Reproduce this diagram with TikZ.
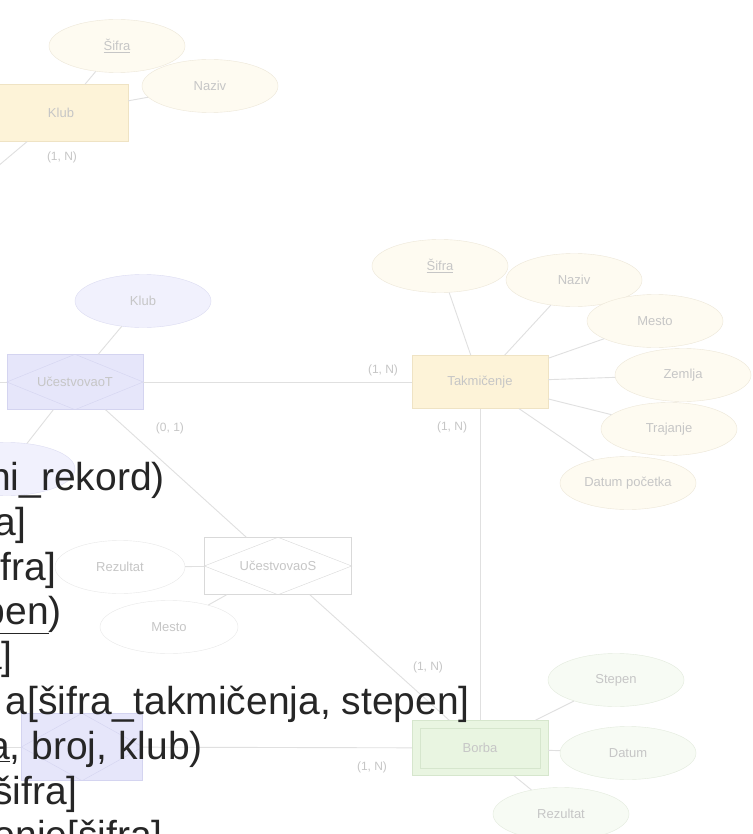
\documentclass[tikz,border=0pt]{standalone}
\usepackage{fontspec}
\setmainfont{Liberation Sans}
\usetikzlibrary{shapes,positioning,calc}
\definecolor{entfill}{HTML}{FDF3D8}
\definecolor{entdraw}{HTML}{EFE3C4}
\definecolor{attfill}{HTML}{FEFBF1}
\definecolor{attdraw}{HTML}{EDE7D8}
\definecolor{relfill}{HTML}{E6E6FA}
\definecolor{reldraw}{HTML}{D4D4F0}
\definecolor{blufill}{HTML}{F1F1FD}
\definecolor{bludraw}{HTML}{DCDCF2}
\definecolor{grnfill}{HTML}{E9F5E1}
\definecolor{grndraw}{HTML}{D6E6CD}
\definecolor{grnatt}{HTML}{F7FBF4}
\definecolor{grnattdraw}{HTML}{E3EBDD}
\definecolor{conncol}{HTML}{E0E0E0}
\definecolor{lblcol}{HTML}{C6C6C6}
\definecolor{ink}{HTML}{262626}
\newcommand{\lblfont}{\fontsize{13}{15}\selectfont}
\newcommand{\cardfont}{\fontsize{12}{14}\selectfont}
\newcommand{\schemafont}{\fontsize{39}{45}\selectfont}

\begin{document}
\begin{tikzpicture}[x=1pt, y=-1pt,
    entity/.style={rectangle, draw=entdraw, fill=entfill, minimum width=136pt, minimum height=54pt, font=\lblfont, text=lblcol},
    attr/.style={ellipse, draw=attdraw, fill=attfill, minimum width=136pt, minimum height=53pt, font=\lblfont, text=lblcol},
    battr/.style={attr, draw=bludraw, fill=blufill},
    gattr/.style={attr, draw=grnattdraw, fill=grnatt},
    rel/.style={rectangle, draw=reldraw, fill=relfill, minimum width=136pt, minimum height=55pt, font=\lblfont, text=lblcol},
    card/.style={font=\cardfont, text=lblcol},
    conn/.style={draw=conncol, line width=0.9pt},
    schema/.style={anchor=base east, inner sep=0pt, font=\schemafont, text=ink},
]
    \useasboundingbox (0,0) rectangle (752,834);
    \fill[white] (0,0) rectangle (752,834);

    % Klub (top)
    \node[entity, minimum width=134pt, minimum height=57pt] (klub) at (61,113) {Klub};
    \node[attr] (ksifra) at (117,46) {\underline{Šifra}};
    \node[attr] (knaziv) at (210,86) {Naziv};
    \coordinate (klubout) at (-60,215);

    % Takmicenje
    \node[entity, minimum height=53pt] (tak) at (480,382) {Takmičenje};
    \node[attr] (tsifra) at (440,266) {\underline{Šifra}};
    \node[attr] (tnaziv) at (574,280) {Naziv};
    \node[attr] (tmesto) at (655,321) {Mesto};
    \node[attr] (tzemlja) at (683,375) {Zemlja};
    \node[attr] (ttraj) at (669,429) {Trajanje};
    \node[attr] (tdatum) at (628,483) {Datum početka};

    % UcestvovaoT
    \node[rel] (uct) at (75,382) {UčestvovaoT};
    \node[battr] (uklub) at (143,301) {Klub};
    \node[battr] (ulicni) at (7,469) {};
    \coordinate (uctout) at (-30,382);

    % UcestvovaoS
    \node[rel, draw=gray!30, fill=white, minimum width=147pt, minimum height=57pt] (ucs) at (278,566) {UčestvovaoS};
    \node[attr, draw=gray!18, fill=white, minimum width=130pt] (srez) at (120,567) {Rezultat};
    \node[attr, draw=gray!18, fill=white, minimum width=138pt] (smesto) at (169,627) {Mesto};

    % Borba
    \node[entity, draw=grndraw, fill=grnfill, minimum height=55pt] (borba) at (480,748) {Borba};
    \node[gattr] (bstepen) at (616,680) {Stepen};
    \node[gattr] (bdatum) at (628,753) {Datum};
    \node[gattr] (brez) at (561,814) {Rezultat};
    \node[rel, minimum width=121pt, minimum height=67pt] (relb) at (82,747) {};
    \coordinate (relbout) at (-30,747);

    \draw[conn] (ksifra) -- (klub);
    \draw[conn] (knaziv) -- (klub);
    \draw[conn] (klub) -- (klubout);
    \draw[conn] (tsifra) -- (tak);
    \draw[conn] (tnaziv) -- (tak);
    \draw[conn] (tmesto) -- (tak);
    \draw[conn] (tzemlja) -- (tak);
    \draw[conn] (ttraj) -- (tak);
    \draw[conn] (tdatum) -- (tak);
    \draw[conn] (uklub) -- (uct);
    \draw[conn] (uct) -- (ulicni);
    \draw[conn] (uctout) -- (uct);
    \draw[conn] (uct) -- (tak);
    \draw[conn] (uct) -- (ucs);
    \draw[conn] (srez) -- (ucs);
    \draw[conn] (smesto) -- (ucs);
    \draw[conn] (ucs) -- (borba);
    \draw[conn] (tak) -- (borba);
    \draw[conn] (bstepen) -- (borba);
    \draw[conn] (bdatum) -- (borba);
    \draw[conn] (brez) -- (borba);
    \draw[conn] (relbout) -- (relb);
    \draw[conn] (relb) -- (borba);

    % diamonds and the weak-entity frame
    \draw[reldraw] (uct.west) -- (uct.north) -- (uct.east) -- (uct.south) -- cycle;
    \draw[gray!30] (ucs.west) -- (ucs.north) -- (ucs.east) -- (ucs.south) -- cycle;
    \draw[reldraw] (relb.west) -- (relb.north) -- (relb.east) -- (relb.south) -- cycle;
    \draw[grndraw] ([shift={(8,8)}]borba.north west) rectangle ([shift={(-8,-8)}]borba.south east);

    \node[card] (c1) at (62,157) {(1, N)};
    \node[card] (c2) at (383,370) {(1, N)};
    \node[card] (c3) at (452,427) {(1, N)};
    \node[card] (c4) at (170,428) {(0, 1)};
    \node[card] (c5) at (428,667) {(1, N)};
    \node[card] (c6) at (372,767) {(1, N)};

    % schema text over the diagram
    \node[schema] (r1) at (165,490) {ni\_rekord)};
    \node[schema] (r2) at (27,535) {a]};
    \node[schema] (r3) at (57,580) {fra]};
    \node[schema] (r4) at (62,624) {\underline{pen})};
    \node[schema] (r5) at (13,669) {a]};
    \node[schema] (r6) at (470,714) {a[šifra\_takmičenja, stepen]};
    \node[schema] (r7) at (203,759) {\underline{a}, broj, klub)};
    \node[schema] (r8) at (78,804) {šifra]};
    \node[schema] (r9) at (163,848) {onje[šifra]};
\end{tikzpicture}
\end{document}
